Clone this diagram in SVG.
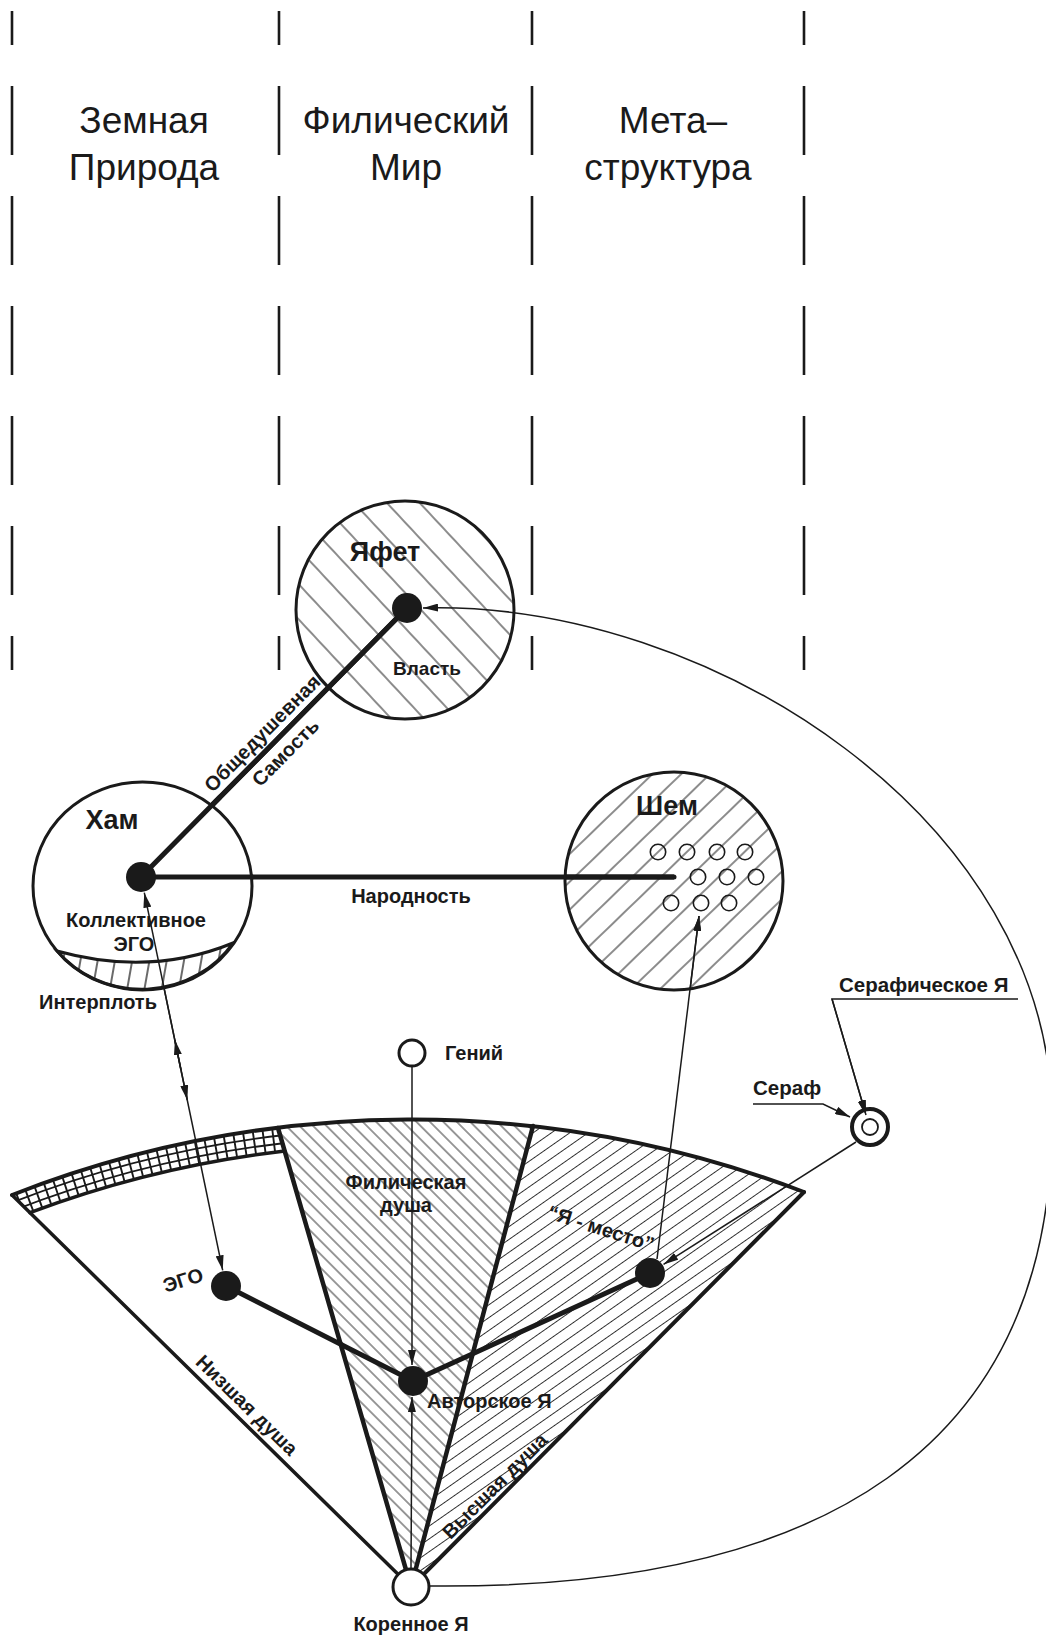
<svg xmlns="http://www.w3.org/2000/svg" width="1046" height="1639" viewBox="0 0 1046 1639">
<style>
.t{font-family:"Liberation Sans",Arial,Helvetica,sans-serif;fill:#1a1a1a}
.h{font-size:37px}
.b{font-weight:bold;font-size:20px}
.n{font-weight:bold;font-size:27px}
.dash{stroke:#1a1a1a;stroke-width:2.6;stroke-dasharray:69 41;stroke-dashoffset:35;fill:none}
.thin{stroke:#1a1a1a;stroke-width:1.5;fill:none}
.thick{stroke:#1a1a1a;stroke-width:5;fill:none;stroke-linecap:round;stroke-linejoin:round}
.edge{stroke:#1a1a1a;fill:none;stroke-linecap:round}
.dot{fill:#1a1a1a}
.ring{fill:#fff;stroke:#1a1a1a;stroke-width:3}
.sm{fill:none;stroke:#1a1a1a;stroke-width:1.6}
</style>
<defs>
<pattern id="pY" patternUnits="userSpaceOnUse" width="40" height="24" patternTransform="rotate(47)"><line x1="0" y1="12" x2="40" y2="12" stroke="#1a1a1a" stroke-width="1.1"/></pattern>
<pattern id="pS" patternUnits="userSpaceOnUse" width="40" height="20" patternTransform="rotate(-44)"><line x1="0" y1="10" x2="40" y2="10" stroke="#1a1a1a" stroke-width="1.1"/></pattern>
<pattern id="pF" patternUnits="userSpaceOnUse" width="40" height="9.5" patternTransform="rotate(45)"><line x1="0" y1="4.75" x2="40" y2="4.75" stroke="#1a1a1a" stroke-width="0.9"/></pattern>
<pattern id="pR" patternUnits="userSpaceOnUse" width="40" height="10.5" patternTransform="rotate(-35)"><line x1="0" y1="5.25" x2="40" y2="5.25" stroke="#1a1a1a" stroke-width="0.9"/></pattern>
<pattern id="pI" patternUnits="userSpaceOnUse" width="17" height="40" patternTransform="rotate(10)"><line x1="8" y1="0" x2="8" y2="40" stroke="#1a1a1a" stroke-width="1.3"/></pattern>
<clipPath id="bandClip"><path d="M 12 1195 A 1098 1098 0 0 1 278 1128 L 284.7 1151.1 A 1074 1074 0 0 0 30 1212.7 Z"/></clipPath>
<marker id="ar" viewBox="0 0 15 8" refX="15" refY="4" markerWidth="15" markerHeight="8" markerUnits="userSpaceOnUse" orient="auto"><path d="M0,0 L15,4 L0,8 Z" fill="#1a1a1a"/></marker>
</defs>
<rect width="1046" height="1639" fill="#fff"/>

<g id="columns">
<line x1="12" y1="11" x2="12" y2="670" class="dash"/>
<line x1="279" y1="11" x2="279" y2="670" class="dash"/>
<line x1="532" y1="11" x2="532" y2="670" class="dash"/>
<line x1="804" y1="11" x2="804" y2="670" class="dash"/>
<text class="t h" x="144" y="133" text-anchor="middle">Земная</text>
<text class="t h" x="144" y="180" text-anchor="middle">Природа</text>
<text class="t h" x="406" y="133" text-anchor="middle">Филический</text>
<text class="t h" x="406" y="180" text-anchor="middle">Мир</text>
<text class="t h" x="673" y="133" text-anchor="middle">Мета–</text>
<text class="t h" x="668" y="180" text-anchor="middle">структура</text>
</g>

<g id="fan">
<path d="M 411 1587 L 12 1195 A 1098 1098 0 0 1 278 1128 Z" fill="#fff"/>
<path d="M 411 1587 L 278 1128 A 1098 1098 0 0 1 533 1126 Z" fill="url(#pF)"/>
<path d="M 411 1587 L 533 1126 A 1098 1098 0 0 1 804 1192 Z" fill="url(#pR)"/>
<g clip-path="url(#bandClip)">
<path d="M -0.3 1207.4 A 1090 1090 0 0 1 294.1 1134" stroke="#1a1a1a" stroke-width="1.8" fill="none"/>
<path d="M 2.7 1214.8 A 1082 1082 0 0 1 294.9 1141.9" stroke="#1a1a1a" stroke-width="1.8" fill="none"/>
<path d="M 1.2 1211.1 A 1086 1086 0 0 1 294.5 1138" stroke="#1a1a1a" stroke-width="28" stroke-dasharray="1.9 7.8" fill="none"/>
</g>
<path d="M 284.7 1151.1 A 1074 1074 0 0 0 30 1212.7" class="edge" stroke-width="3.5"/>
<path d="M 12 1195 A 1098 1098 0 0 1 804 1192" class="edge" stroke-width="4"/>
<line x1="12" y1="1195" x2="411" y2="1587" class="edge" stroke-width="3.5"/>
<line x1="804" y1="1192" x2="411" y2="1587" class="edge" stroke-width="4"/>
<line x1="278" y1="1128" x2="411" y2="1587" class="edge" stroke-width="4.5"/>
<line x1="533" y1="1126" x2="411" y2="1587" class="edge" stroke-width="4.5"/>
<text class="t b" x="406" y="1189" text-anchor="middle">Филическая</text>
<text class="t b" x="406" y="1212" text-anchor="middle">душа</text>
<text class="t b" transform="translate(236.4,1415.7) rotate(44.5)" x="0" y="-8" text-anchor="middle">Низшая душа</text>
<text class="t b" transform="translate(503.2,1494.3) rotate(-45.1)" x="0" y="-5" text-anchor="middle">Высшая душа</text>
<text class="t b" transform="translate(601,1228) rotate(17.6)" x="0" y="7" text-anchor="middle">“Я - место”</text>
</g>

<g id="connectors">
<path d="M 429 1586 C 820 1590 1052 1450 1052 1120 C 1052 820 710 600 423 608" class="thin" marker-end="url(#ar)"/>
<line x1="141" y1="877" x2="407" y2="608" class="thick"/>
<line x1="141" y1="877" x2="674" y2="877" class="thick"/>
<polyline points="226,1286 413,1381 650,1273" class="thick"/>
<path d="M 181 1070 L 144.3 892.7" class="thin" marker-end="url(#ar)"/>
<path d="M 181 1070 L 174.9 1040" class="thin" marker-end="url(#ar)"/>
<path d="M 181 1070 L 187.3 1100" class="thin" marker-end="url(#ar)"/>
<path d="M 181 1070 L 222.7 1270.3" class="thin" marker-end="url(#ar)"/>
<path d="M 412 1066 L 412 1365" class="thin" marker-end="url(#ar)"/>
<path d="M 411 1568 L 412 1397" class="thin" marker-end="url(#ar)"/>
<path d="M 657 1259 L 699 916" class="thin" marker-end="url(#ar)"/>
<path d="M 856 1142 L 663.5 1264.4" class="thin" marker-end="url(#ar)"/>
<path d="M 1018 999 L 832 999 L 866 1115" class="thin" marker-end="url(#ar)"/>
<path d="M 753 1104 L 823 1104 L 850 1117" class="thin" marker-end="url(#ar)"/>
<text class="t b" transform="translate(272.8,743.7) rotate(-45.3)" x="0" y="-8" text-anchor="middle">Общедушевная</text>
<text class="t b" transform="translate(274.6,741.9) rotate(-45.3)" x="0" y="22" text-anchor="middle">Самость</text>
<text class="t b" x="411" y="903" text-anchor="middle">Народность</text>
</g>

<g id="yafet">
<circle cx="405" cy="610" r="109" fill="url(#pY)" stroke="#1a1a1a" stroke-width="3"/>
<line x1="141" y1="877" x2="407" y2="608" class="thick"/>
<circle cx="407" cy="608" r="15" class="dot"/>
<text class="t n" x="385" y="561" text-anchor="middle">Яфет</text>
<text class="t b" x="427" y="675" text-anchor="middle" style="font-size:19px">Власть</text>
</g>

<g id="ham">
<ellipse cx="142.5" cy="886" rx="109.5" ry="104" fill="#fff" stroke="#1a1a1a" stroke-width="3"/>
<path d="M 57 951 Q 150 977 233 943 A 109.5 104 0 0 1 57 951 Z" fill="url(#pI)" stroke="#1a1a1a" stroke-width="3"/>
<line x1="141" y1="877" x2="252" y2="877" class="thick"/>
<line x1="141" y1="877" x2="220" y2="797" class="thick"/>
<path d="M 181 1070 L 144.3 892.7" class="thin" marker-end="url(#ar)"/>
<circle cx="141" cy="877" r="15" class="dot"/>
<text class="t n" x="112" y="829" text-anchor="middle">Хам</text>
<text class="t b" x="136" y="927" text-anchor="middle">Коллективное</text>
<text class="t b" x="134" y="951" text-anchor="middle">ЭГО</text>
<text class="t b" x="98" y="1009" text-anchor="middle">Интерплоть</text>
</g>

<g id="shem">
<circle cx="674" cy="881" r="109" fill="url(#pS)" stroke="#1a1a1a" stroke-width="3"/>
<line x1="565" y1="877" x2="674" y2="877" class="thick" style="stroke-linecap:butt"/>
<circle cx="658" cy="852" r="7.7" class="sm"/>
<circle cx="687" cy="852" r="7.7" class="sm"/>
<circle cx="717" cy="852" r="7.7" class="sm"/>
<circle cx="745" cy="852" r="7.7" class="sm"/>
<circle cx="698" cy="877" r="7.7" class="sm"/>
<circle cx="727" cy="877" r="7.7" class="sm"/>
<circle cx="756" cy="877" r="7.7" class="sm"/>
<circle cx="671" cy="903" r="7.7" class="sm"/>
<circle cx="701" cy="903" r="7.7" class="sm"/>
<circle cx="729" cy="903" r="7.7" class="sm"/>
<path d="M 690 990 L 699 916" class="thin" marker-end="url(#ar)"/>
<text class="t n" x="667" y="815" text-anchor="middle">Шем</text>
</g>

<g id="genius">
<circle cx="412" cy="1053" r="13" class="ring"/>
<text class="t b" x="445" y="1060">Гений</text>
</g>

<g id="ego">
<circle cx="226" cy="1286" r="15" class="dot"/>
<text class="t b" transform="translate(183,1280) rotate(-17)" x="0" y="7" text-anchor="middle">ЭГО</text>
</g>

<g id="author-ya">
<circle cx="413" cy="1381" r="15" class="dot"/>
<text class="t b" x="427" y="1408">Авторское Я</text>
</g>

<g id="ya-mesto">
<circle cx="650" cy="1273" r="15" class="dot"/>
</g>

<g id="root-ya">
<circle cx="411" cy="1587" r="18" class="ring"/>
<text class="t b" x="411" y="1631" text-anchor="middle">Коренное Я</text>
</g>

<g id="seraf">
<circle cx="870" cy="1127" r="18" fill="#fff" stroke="#1a1a1a" stroke-width="4"/>
<circle cx="870" cy="1127" r="8" fill="#fff" stroke="#1a1a1a" stroke-width="1.8"/>
<path d="M 832 999 L 866 1115" class="thin" marker-end="url(#ar)"/>
<text class="t b" x="839" y="992" style="font-size:20.5px">Серафическое Я</text>
<text class="t b" x="753" y="1095" style="font-size:20.5px">Сераф</text>
</g>
</svg>
